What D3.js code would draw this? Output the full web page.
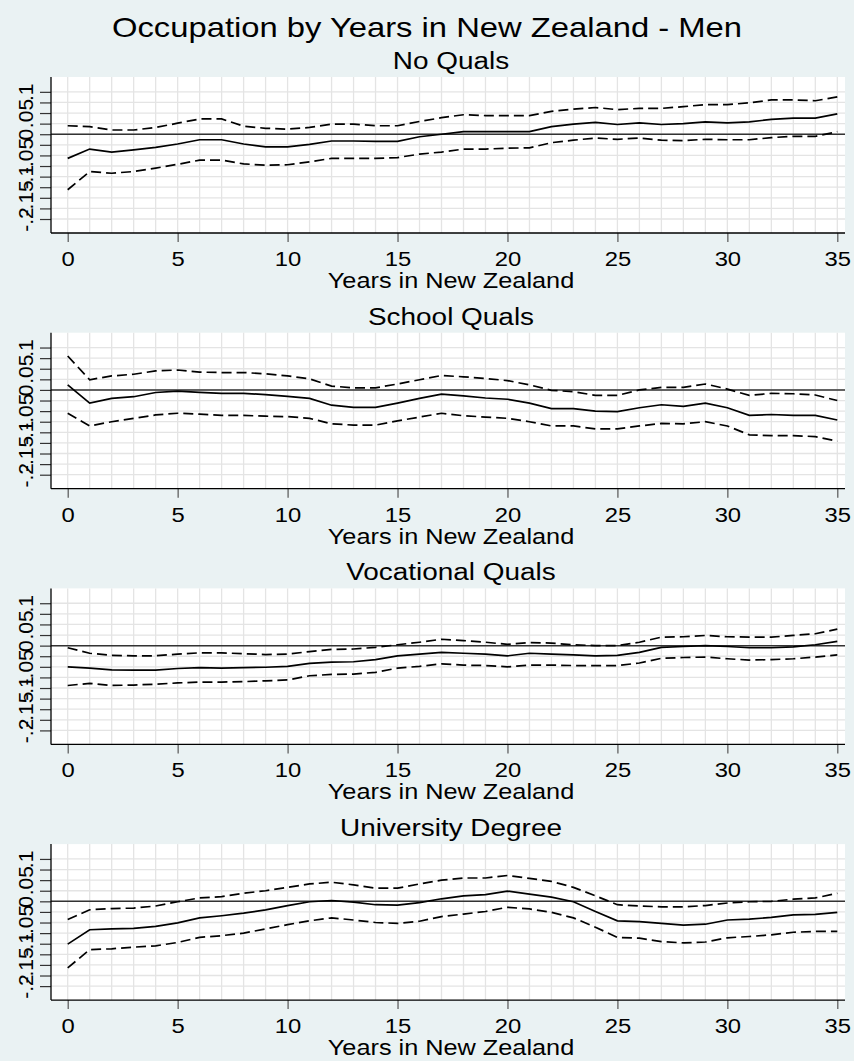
<!DOCTYPE html>
<html>
<head>
<meta charset="utf-8">
<script src="https://cdn.jsdelivr.net/npm/d3@7"></script>
<style>
  html, body { margin: 0; padding: 0; background: #eaf2f3; }
  svg { display: block; }
  text { font-family: "Liberation Sans", Arial, sans-serif; fill: #000; }
</style>
</head>
<body>
<svg id="chart" width="854" height="1061"></svg>
<script>
// ---------------- DATA ----------------
const chartTitle = "Occupation by Years in New Zealand - Men";
const xTitle = "Years in New Zealand";
const panelTitles = ["No Quals", "School Quals", "Vocational Quals", "University Degree"];

const years = [0,1,2,3,4,5,6,7,8,9,10,11,12,13,14,15,16,17,18,19,20,21,22,23,24,25,26,27,28,29,30,31,32,33,34,35];
const xTickValues = [0,5,10,15,20,25,30,35];
const yTickValues = [-0.2,-0.175,-0.15,-0.125,-0.1,-0.075,-0.05,-0.025,0,0.025,0.05,0.075,0.1];
const yLabelValues = [-0.2,-0.15,-0.1,-0.05,0,0.05,0.1];
const yLabelTexts = ["-.2","-.15","-.1","-.05","0",".05",".1"];

// No Quals
const noQualsEst   = [-0.057,-0.035,-0.042,-0.037,-0.031,-0.023,-0.013,-0.013,-0.023,-0.030,-0.030,-0.024,-0.016,-0.016,-0.017,-0.017,-0.006,0.000,0.006,0.006,0.006,0.006,0.018,0.024,0.028,0.023,0.027,0.023,0.025,0.029,0.027,0.029,0.035,0.038,0.038,0.048];
const noQualsUpper = [0.020,0.018,0.010,0.010,0.016,0.026,0.036,0.036,0.019,0.014,0.012,0.016,0.024,0.024,0.020,0.020,0.030,0.039,0.046,0.044,0.044,0.044,0.054,0.059,0.063,0.058,0.061,0.061,0.065,0.070,0.070,0.074,0.081,0.081,0.079,0.088];
const noQualsLower = [-0.131,-0.088,-0.092,-0.088,-0.080,-0.071,-0.061,-0.061,-0.070,-0.073,-0.072,-0.065,-0.057,-0.057,-0.057,-0.055,-0.047,-0.042,-0.035,-0.035,-0.033,-0.032,-0.020,-0.014,-0.009,-0.012,-0.009,-0.014,-0.015,-0.012,-0.013,-0.013,-0.008,-0.005,-0.005,0.006];

// School Quals
const schoolEst   = [0.012,-0.031,-0.020,-0.016,-0.006,-0.003,-0.006,-0.008,-0.008,-0.011,-0.015,-0.020,-0.036,-0.041,-0.041,-0.031,-0.020,-0.010,-0.014,-0.019,-0.022,-0.031,-0.044,-0.044,-0.050,-0.051,-0.042,-0.035,-0.039,-0.031,-0.042,-0.060,-0.058,-0.060,-0.060,-0.071];
const schoolUpper = [0.080,0.024,0.033,0.037,0.045,0.047,0.042,0.041,0.041,0.038,0.033,0.026,0.009,0.005,0.005,0.014,0.024,0.034,0.031,0.027,0.022,0.012,-0.001,-0.004,-0.013,-0.013,0.000,0.006,0.006,0.014,0.002,-0.013,-0.008,-0.009,-0.012,-0.025];
const schoolLower = [-0.055,-0.085,-0.075,-0.067,-0.059,-0.055,-0.057,-0.060,-0.060,-0.062,-0.063,-0.067,-0.080,-0.083,-0.083,-0.073,-0.064,-0.055,-0.061,-0.064,-0.067,-0.075,-0.085,-0.085,-0.092,-0.092,-0.085,-0.079,-0.080,-0.075,-0.085,-0.106,-0.108,-0.108,-0.110,-0.121];

// Vocational Quals
const vocEst   = [-0.050,-0.053,-0.057,-0.058,-0.058,-0.054,-0.052,-0.053,-0.052,-0.051,-0.049,-0.042,-0.039,-0.038,-0.033,-0.024,-0.020,-0.016,-0.018,-0.020,-0.024,-0.018,-0.020,-0.022,-0.024,-0.023,-0.016,-0.004,-0.002,0.000,-0.002,-0.005,-0.005,-0.003,0.002,0.010];
const vocUpper = [-0.005,-0.018,-0.023,-0.024,-0.024,-0.020,-0.017,-0.017,-0.019,-0.021,-0.020,-0.014,-0.009,-0.008,-0.004,0.002,0.008,0.015,0.012,0.008,0.003,0.007,0.006,0.002,0.000,0.000,0.008,0.020,0.021,0.024,0.021,0.020,0.020,0.024,0.028,0.039];
const vocLower = [-0.094,-0.089,-0.094,-0.093,-0.091,-0.088,-0.086,-0.086,-0.085,-0.083,-0.081,-0.071,-0.068,-0.067,-0.063,-0.053,-0.049,-0.043,-0.046,-0.047,-0.050,-0.046,-0.046,-0.047,-0.047,-0.047,-0.041,-0.030,-0.028,-0.027,-0.031,-0.034,-0.033,-0.031,-0.027,-0.022];

// University Degree
const uniEst   = [-0.101,-0.067,-0.065,-0.064,-0.059,-0.051,-0.039,-0.034,-0.028,-0.020,-0.010,-0.001,0.002,-0.002,-0.008,-0.009,-0.003,0.006,0.013,0.016,0.024,0.017,0.010,-0.001,-0.024,-0.046,-0.048,-0.052,-0.056,-0.054,-0.044,-0.042,-0.038,-0.032,-0.031,-0.026];
const uniUpper = [-0.043,-0.020,-0.017,-0.016,-0.011,-0.001,0.008,0.011,0.019,0.025,0.033,0.041,0.045,0.039,0.031,0.031,0.041,0.050,0.055,0.055,0.061,0.054,0.047,0.033,0.013,-0.008,-0.011,-0.013,-0.013,-0.010,-0.004,-0.001,0.000,0.005,0.008,0.019];
const uniLower = [-0.157,-0.114,-0.112,-0.108,-0.105,-0.097,-0.085,-0.081,-0.075,-0.065,-0.055,-0.046,-0.039,-0.044,-0.050,-0.052,-0.047,-0.036,-0.030,-0.024,-0.014,-0.018,-0.026,-0.039,-0.061,-0.085,-0.087,-0.095,-0.098,-0.096,-0.086,-0.083,-0.079,-0.073,-0.071,-0.071];

const panelEst   = [noQualsEst, schoolEst, vocEst, uniEst];
const panelUpper = [noQualsUpper, schoolUpper, vocUpper, uniUpper];
const panelLower = [noQualsLower, schoolLower, vocLower, uniLower];

// ---------------- LAYOUT ----------------
const W = 854, H = 1061;
const plotLeft = 51, plotRight = 845;
const firstTop = 77, panelStep = 255.7, plotH = 156;
const yDomain = [-0.233, 0.135];

const svg = d3.select("#chart");
svg.append("rect").attr("width", W).attr("height", H).attr("fill", "#eaf2f3");

svg.append("text")
  .attr("transform", "translate(427,37) scale(1.17,1)")
  .attr("text-anchor", "middle")
  .style("font-size", "28px")
  .text(chartTitle);

const x = d3.scaleLinear().domain([0, 35]).range([67.7, 837.3]);
const y = d3.scaleLinear().domain(yDomain).range([plotH, 0]);

const lineGen = d3.line()
  .x((d, i) => x(years[i]))
  .y(d => y(d));

panelTitles.forEach((title, p) => {
  const top = firstTop + p * panelStep;
  const g = svg.append("g").attr("transform", `translate(0,${top})`);

  // subtitle
  g.append("text")
    .attr("transform", "translate(451,-8) scale(1.14,1)")
    .attr("text-anchor", "middle")
    .style("font-size", "24.5px")
    .text(title);

  // plot region
  g.append("rect")
    .attr("x", plotLeft).attr("y", 0)
    .attr("width", plotRight - plotLeft).attr("height", plotH)
    .attr("fill", "#ffffff");

  // grid
  g.append("g").selectAll("line.vg").data(years).join("line")
    .attr("x1", d => x(d)).attr("x2", d => x(d))
    .attr("y1", 0).attr("y2", plotH)
    .attr("stroke", "#e4e4e4").attr("stroke-width", 1.3);
  g.append("g").selectAll("line.hg").data(yTickValues).join("line")
    .attr("x1", plotLeft).attr("x2", plotRight)
    .attr("y1", d => y(d)).attr("y2", d => y(d))
    .attr("stroke", "#e4e4e4").attr("stroke-width", 1.3);

  // zero reference line
  g.append("line")
    .attr("x1", plotLeft).attr("x2", plotRight)
    .attr("y1", y(0)).attr("y2", y(0))
    .attr("stroke", "#333").attr("stroke-width", 1.5);

  // series
  g.append("path").datum(panelUpper[p])
    .attr("d", lineGen).attr("fill", "none")
    .attr("stroke", "#000").attr("stroke-width", 1.7)
    .attr("stroke-dasharray", "10,5");
  g.append("path").datum(panelLower[p])
    .attr("d", lineGen).attr("fill", "none")
    .attr("stroke", "#000").attr("stroke-width", 1.7)
    .attr("stroke-dasharray", "10,5");
  g.append("path").datum(panelEst[p])
    .attr("d", lineGen).attr("fill", "none")
    .attr("stroke", "#000").attr("stroke-width", 1.7);

  // y axis
  const yAxis = d3.axisLeft(y)
    .tickValues(yTickValues)
    .tickSize(11)
    .tickSizeOuter(0)
    .tickFormat(v => {
      const k = yLabelValues.findIndex(l => Math.abs(l - v) < 1e-9);
      return k >= 0 ? yLabelTexts[k] : "";
    });
  const ya = g.append("g").attr("transform", `translate(${plotLeft},0)`).call(yAxis);
  ya.select(".domain").remove();
  ya.selectAll(".tick line").attr("stroke", "#333").attr("stroke-width", 1.2);
  ya.selectAll(".tick text")
    .attr("x", null).attr("dy", null)
    .attr("transform", "translate(-18,0) rotate(-90)")
    .attr("text-anchor", "middle")
    .style("font-size", "21px")
    .style("font-family", "'Liberation Sans', Arial, sans-serif")
    .attr("fill", "#000");

  // x axis
  const xAxis = d3.axisBottom(x)
    .tickValues(xTickValues)
    .tickSize(9)
    .tickSizeOuter(0)
    .tickFormat(d3.format("d"));
  const xa = g.append("g").attr("transform", `translate(0,${plotH})`).call(xAxis);
  xa.select(".domain").remove();
  xa.selectAll(".tick line").attr("stroke", "#555").attr("stroke-width", 1.2);
  xa.selectAll(".tick text")
    .attr("y", null).attr("dy", null)
    .attr("transform", "translate(0,33) scale(1.19,1)")
    .style("font-size", "20px")
    .style("font-family", "'Liberation Sans', Arial, sans-serif")
    .attr("fill", "#000");

  // axis lines
  g.append("line")
    .attr("x1", plotLeft).attr("x2", plotLeft)
    .attr("y1", 0).attr("y2", plotH)
    .attr("stroke", "#000").attr("stroke-width", 1.3);
  g.append("line")
    .attr("x1", plotLeft).attr("x2", plotRight)
    .attr("y1", plotH).attr("y2", plotH)
    .attr("stroke", "#000").attr("stroke-width", 1.3);

  // x title
  g.append("text")
    .attr("transform", `translate(451,${plotH + 55}) scale(1.15,1)`)
    .attr("text-anchor", "middle")
    .style("font-size", "22px")
    .text(xTitle);
});
</script>
</body>
</html>
